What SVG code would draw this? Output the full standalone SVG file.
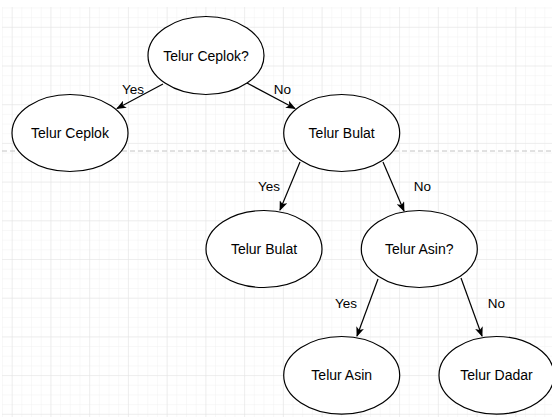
<svg xmlns="http://www.w3.org/2000/svg" width="552" height="417" viewBox="0 0 552 417">
<defs>
<pattern id="minor" x="1.98" y="7.45" width="9.685" height="9.675" patternUnits="userSpaceOnUse">
<path d="M0,0 H9.685 M0,0 V9.675" fill="none" stroke="#f1f1f1" stroke-width="1"/>
</pattern>
<pattern id="major" x="11.7" y="26.8" width="38.74" height="38.7" patternUnits="userSpaceOnUse">
<path d="M0,0 H38.74 M0,0 V38.7" fill="none" stroke="#e3e3e3" stroke-width="1"/>
</pattern>
<marker id="arr" viewBox="0 0 10 8" refX="9" refY="4" markerWidth="10" markerHeight="8" markerUnits="userSpaceOnUse" orient="auto">
<path d="M0,0 L10,4 L0,8 L2.5,4 Z" fill="#000"/>
</marker>
</defs>
<style>
.node ellipse{fill:#fff;stroke:#000;stroke-width:1.2}
.node text{font-family:"Liberation Sans",Arial,sans-serif;font-size:14px;fill:#000;text-anchor:middle}
.edge line{stroke:#000;stroke-width:1.2;marker-end:url(#arr)}
.lbl{font-family:"Liberation Sans",Arial,sans-serif;font-size:13.5px;fill:#000;text-anchor:middle}
</style>
<rect x="0" y="0" width="552" height="417" fill="#fff"/>
<rect x="2" y="7" width="550" height="410" fill="url(#minor)"/>
<rect x="2" y="7" width="550" height="410" fill="url(#major)"/>
<line x1="2" y1="151" x2="552" y2="151" stroke="#c4c4c4" stroke-width="1" stroke-dasharray="5,3"/>
<g id="connectors" class="edge">
<line x1="163" y1="84" x2="117" y2="108.5"/>
<line x1="247" y1="83" x2="295" y2="108.5"/>
<line x1="300" y1="162" x2="280" y2="210"/>
<line x1="383" y1="162" x2="404" y2="211"/>
<line x1="378" y1="279" x2="357" y2="336"/>
<line x1="461" y1="278" x2="482" y2="336"/>
<text class="lbl" x="133" y="94">Yes</text>
<text class="lbl" x="282.5" y="94">No</text>
<text class="lbl" x="269" y="191">Yes</text>
<text class="lbl" x="422.5" y="191">No</text>
<text class="lbl" x="346" y="308">Yes</text>
<text class="lbl" x="496.5" y="308">No</text>
</g>
<g id="n_ceplok_q" class="node"><ellipse cx="206" cy="55.5" rx="58" ry="39"/><text x="206" y="60.5">Telur Ceplok?</text></g>
<g id="n_ceplok" class="node"><ellipse cx="70" cy="133" rx="58" ry="38.5"/><text x="70" y="138">Telur Ceplok</text></g>
<g id="n_bulat_q" class="node"><ellipse cx="341.7" cy="133" rx="58" ry="38.5"/><text x="341.7" y="138">Telur Bulat</text></g>
<g id="n_bulat" class="node"><ellipse cx="264" cy="249" rx="58" ry="38.5"/><text x="264" y="254">Telur Bulat</text></g>
<g id="n_asin_q" class="node"><ellipse cx="419.3" cy="249" rx="58" ry="38.5"/><text x="419.3" y="254">Telur Asin?</text></g>
<g id="n_asin" class="node"><ellipse cx="341.7" cy="375.3" rx="58" ry="38.8"/><text x="341.7" y="380.3">Telur Asin</text></g>
<g id="n_dadar" class="node"><ellipse cx="496.5" cy="375.3" rx="57.5" ry="38.8"/><text x="496.5" y="380.3">Telur Dadar</text></g>
</svg>
